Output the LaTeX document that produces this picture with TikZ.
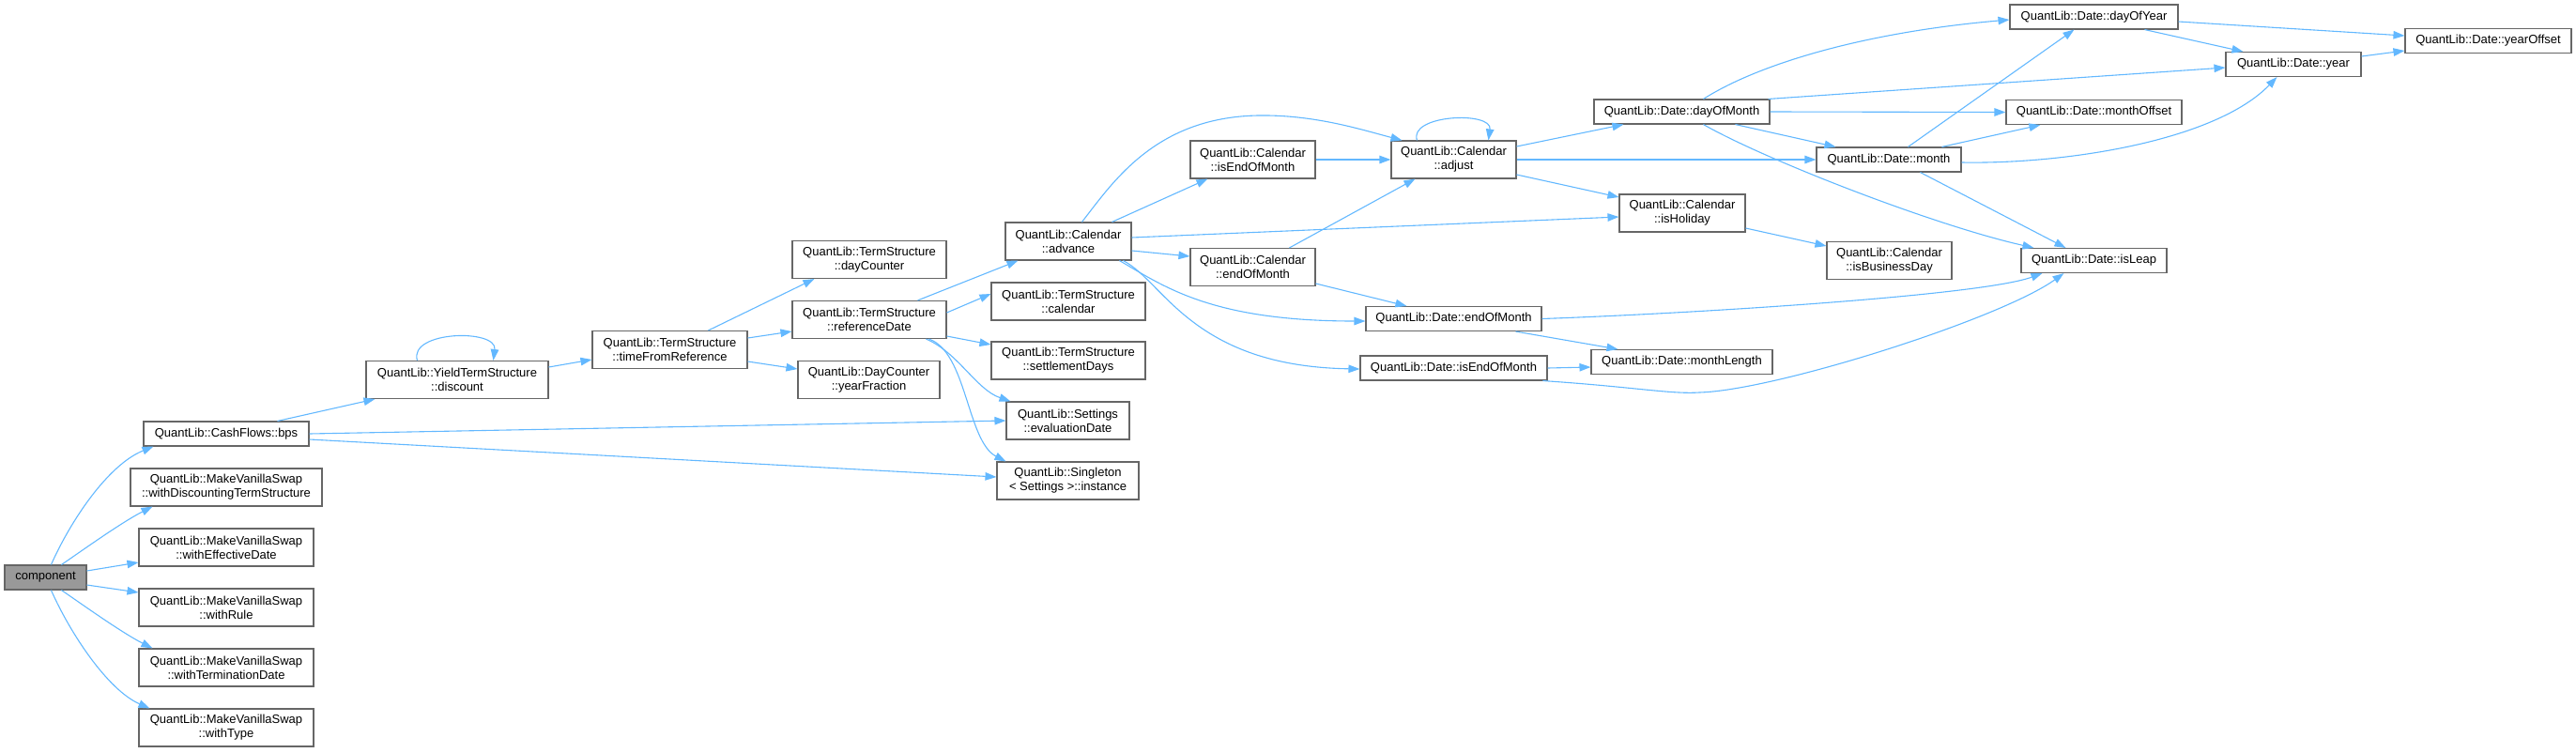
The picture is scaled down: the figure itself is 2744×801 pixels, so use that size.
\documentclass[tikz,border=0pt]{standalone}
\usepackage{fontspec}
\setmainfont{Liberation Sans}
\usetikzlibrary{arrows.meta,calc}
\definecolor{edgec}{HTML}{63B8FF}
\definecolor{boxc}{HTML}{666666}
\definecolor{compfill}{HTML}{999999}
\begin{document}
\begin{tikzpicture}[x=1pt,y=-1pt,
  fn/.style={draw=boxc, line width=1.1pt, fill=white, inner sep=0pt, align=center, font=\fontsize{13}{15}\selectfont},
  bx/.style 2 args={minimum width=#1pt, minimum height=#2pt},
  cl/.style={draw=edgec, line width=1.1pt, -{Triangle[length=12pt,width=8.5pt]}}]
\useasboundingbox (0,0) rectangle (2744,801);
% nodes
\node[fn,bx={87}{26},fill=compfill] (comp) at (48.5,615) {component};
\node[fn,bx={176}{26}] (bps) at (241,462) {QuantLib::CashFlows::bps};
\node[fn,bx={204}{40}] (wdts) at (241,519) {QuantLib::MakeVanillaSwap\\::withDiscountingTermStructure};
\node[fn,bx={186}{40}] (wed) at (241,583) {QuantLib::MakeVanillaSwap\\::withEffectiveDate};
\node[fn,bx={186}{40}] (wr) at (241,647) {QuantLib::MakeVanillaSwap\\::withRule};
\node[fn,bx={186}{40}] (wtd) at (241,711) {QuantLib::MakeVanillaSwap\\::withTerminationDate};
\node[fn,bx={186}{40}] (wt) at (241,775) {QuantLib::MakeVanillaSwap\\::withType};
\node[fn,bx={194}{40}] (disc) at (487,404.5) {QuantLib::YieldTermStructure\\::discount};
\node[fn,bx={165}{40}] (tfr) at (713.5,372.5) {QuantLib::TermStructure\\::timeFromReference};
\node[fn,bx={164}{40}] (dc) at (926,276.5) {QuantLib::TermStructure\\::dayCounter};
\node[fn,bx={164}{40}] (rd) at (926,340.5) {QuantLib::TermStructure\\::referenceDate};
\node[fn,bx={151}{40}] (yf) at (925.5,404.5) {QuantLib::DayCounter\\::yearFraction};
\node[fn,bx={134}{40}] (adv) at (1138,257) {QuantLib::Calendar\\::advance};
\node[fn,bx={164}{40}] (cal) at (1138,321) {QuantLib::TermStructure\\::calendar};
\node[fn,bx={164}{40}] (sd) at (1138,384) {QuantLib::TermStructure\\::settlementDays};
\node[fn,bx={131}{40}] (ed) at (1137.5,448) {QuantLib::Settings\\::evaluationDate};
\node[fn,bx={151}{40}] (inst) at (1137.5,512) {QuantLib::Singleton\\< Settings >::instance};
\node[fn,bx={133}{40}] (ceom) at (1334.5,170) {QuantLib::Calendar\\::isEndOfMonth};
\node[fn,bx={133}{40}] (adj) at (1548.5,170) {QuantLib::Calendar\\::adjust};
\node[fn,bx={133}{40}] (cend) at (1334.5,284.5) {QuantLib::Calendar\\::endOfMonth};
\node[fn,bx={187}{26}] (dend) at (1548.5,339.5) {QuantLib::Date::endOfMonth};
\node[fn,bx={199}{26}] (deom) at (1548.5,392) {QuantLib::Date::isEndOfMonth};
\node[fn,bx={187}{26}] (dom) at (1791.5,119) {QuantLib::Date::dayOfMonth};
\node[fn,bx={134}{40}] (hol) at (1792,227) {QuantLib::Calendar\\::isHoliday};
\node[fn,bx={193}{26}] (ml) at (1791.5,385.5) {QuantLib::Date::monthLength};
\node[fn,bx={154}{26}] (mon) at (2012,170) {QuantLib::Date::month};
\node[fn,bx={133}{40}] (bd) at (2012.5,277.5) {QuantLib::Calendar\\::isBusinessDay};
\node[fn,bx={179}{26}] (doy) at (2230.5,18) {QuantLib::Date::dayOfYear};
\node[fn,bx={187}{26}] (mo) at (2230.5,119.5) {QuantLib::Date::monthOffset};
\node[fn,bx={155}{26}] (il) at (2230.5,277.5) {QuantLib::Date::isLeap};
\node[fn,bx={144}{26}] (yr) at (2443,68.5) {QuantLib::Date::year};
\node[fn,bx={177}{26}] (yo) at (2650.5,43.5) {QuantLib::Date::yearOffset};
% edges from component
\draw[cl] ($(comp.north west)+(50,0)$) .. controls (75,555) and (115,495) .. ($(bps.south west)+(11,0)$);
\draw[cl] ($(comp.north west)+(61,0)$) .. controls (88,586) and (130,556) .. ($(wdts.south west)+(24,0)$);
\draw[cl] ($(comp.east)+(0,-7)$) -- ($(wed.west)+(0,16)$);
\draw[cl] ($(comp.east)+(0,8)$) -- ($(wr.west)+(0,-16)$);
\draw[cl] ($(comp.south west)+(61,0)$) .. controls (88,644) and (130,674) .. ($(wtd.north west)+(15,0)$);
\draw[cl] ($(comp.south west)+(50,0)$) .. controls (75,675) and (115,735) .. ($(wt.north west)+(12,0)$);
% bps
\draw[cl] ($(bps.north west)+(143,0)$) -- ($(disc.south west)+(10,0)$);
\draw[cl] (bps.east) -- (ed.west);
\draw[cl] ($(bps.east)+(0,6)$) -- ($(inst.west)+(0,-4)$);
% discount
\draw[cl] ($(disc.north west)+(55,0)$) .. controls (435,352) and (530,350) .. ($(disc.north west)+(136,0)$);
\draw[cl] ($(disc.east)+(0,-13.5)$) -- ($(tfr.west)+(0,10.5)$);
% timeFromReference
\draw[cl] ($(tfr.north west)+(124,0)$) -- ($(dc.south west)+(24,0)$);
\draw[cl] ($(tfr.east)+(0,-12.5)$) -- ($(rd.west)+(0,12.5)$);
\draw[cl] ($(tfr.east)+(0,12.5)$) -- ($(yf.west)+(0,-11.5)$);
% referenceDate
\draw[cl] ($(rd.north west)+(134,0)$) -- ($(adv.south west)+(14,0)$);
\draw[cl] ($(rd.east)+(0,-7.5)$) -- ($(cal.west)+(0,-8)$);
\draw[cl] ($(rd.east)+(0,17.5)$) -- ($(sd.west)+(0,-17)$);
\draw[cl] ($(rd.south west)+(143,0)$) .. controls (1020,375) and (1040,415) .. ($(ed.north west)+(5,0)$);
\draw[cl] ($(rd.south west)+(146,0)$) .. controls (1030,375) and (1030,470) .. ($(inst.north west)+(10,0)$);
% advance
\draw[cl] ($(adv.north west)+(82,0)$) .. controls (1185,195) and (1230,125) .. (1340,123) .. controls (1400,122) and (1450,138) .. ($(adj.north west)+(12,0)$);
\draw[cl] ($(adv.north west)+(114,0)$) -- ($(ceom.south west)+(19,0)$);
\draw[cl] ($(adv.east)+(0,-4)$) -- ($(hol.west)+(0,4)$);
\draw[cl] ($(adv.east)+(0,10)$) -- ($(cend.west)+(0,-11.5)$);
\draw[cl] ($(adv.south west)+(122,0)$) .. controls (1240,305) and (1290,342) .. ($(dend.west)+(0,2.5)$);
\draw[cl] ($(adv.south west)+(126,0)$) .. controls (1240,300) and (1270,390) .. ($(deom.west)+(0,1)$);
% calendar isEndOfMonth / endOfMonth
\draw[cl] (ceom.east) -- (adj.west);
\draw[cl] ($(cend.north west)+(106,0)$) -- ($(adj.south west)+(26,0)$);
\draw[cl] ($(cend.east)+(0,17.5)$) -- ($(dend.north west)+(44,0)$);
% adjust
\draw[cl] ($(adj.north west)+(28,0)$) .. controls (1500,122) and (1590,118) .. ($(adj.north west)+(104,0)$);
\draw[cl] ($(adj.east)+(0,-14)$) -- ($(dom.south west)+(32,0)$);
\draw[cl] (adj.east) -- (mon.west);
\draw[cl] ($(adj.east)+(0,16)$) -- ($(hol.west)+(0,-17)$);
% dayOfMonth
\draw[cl] ($(dom.north west)+(117,0)$) .. controls (1870,70) and (1980,35) .. ($(doy.west)+(0,3)$);
\draw[cl] ($(dom.north east)+(-2,0)$) -- ($(yr.west)+(0,3.5)$);
\draw[cl] (dom.east) -- (mo.west);
\draw[cl] ($(dom.south west)+(151,0)$) -- ($(mon.north west)+(21,0)$);
\draw[cl] ($(dom.south west)+(117,0)$) .. controls (1880,170) and (2060,240) .. ($(il.north west)+(14,0)$);
% month
\draw[cl] ($(mon.north west)+(98,0)$) -- ($(doy.south west)+(69,0)$);
\draw[cl] ($(mon.north west)+(134,0)$) -- ($(mo.south west)+(37,0)$);
\draw[cl] ($(mon.east)+(0,3)$) .. controls (2200,175) and (2360,150) .. ($(yr.south west)+(55,0)$);
\draw[cl] ($(mon.south west)+(111,0)$) -- ($(il.north west)+(48,0)$);
% isHoliday
\draw[cl] ($(hol.east)+(0,16)$) -- ($(bd.west)+(0,-15.5)$);
% dayOfYear, year
\draw[cl] ($(doy.east)+(0,5)$) -- ($(yo.west)+(0,-5.5)$);
\draw[cl] ($(doy.south west)+(144,0)$) -- ($(yr.north west)+(19,0)$);
\draw[cl] ($(yr.east)+(0,-8.5)$) -- ($(yo.west)+(0,10.5)$);
% Date endOfMonth / isEndOfMonth
\draw[cl] (dend.east) .. controls (1800,334) and (2110,315) .. ($(il.south west)+(23,0)$);
\draw[cl] ($(dend.south west)+(160,0)$) -- ($(ml.north west)+(29,0)$);
\draw[cl] (deom.east) -- ($(ml.west)+(0,5.5)$);
\draw[cl] ($(deom.south west)+(195,0)$) .. controls (1740,412) and (1780,420) .. (1810,418) .. controls (1890,416) and (2130,340) .. ($(il.south west)+(46,0)$);
\end{tikzpicture}
\end{document}
